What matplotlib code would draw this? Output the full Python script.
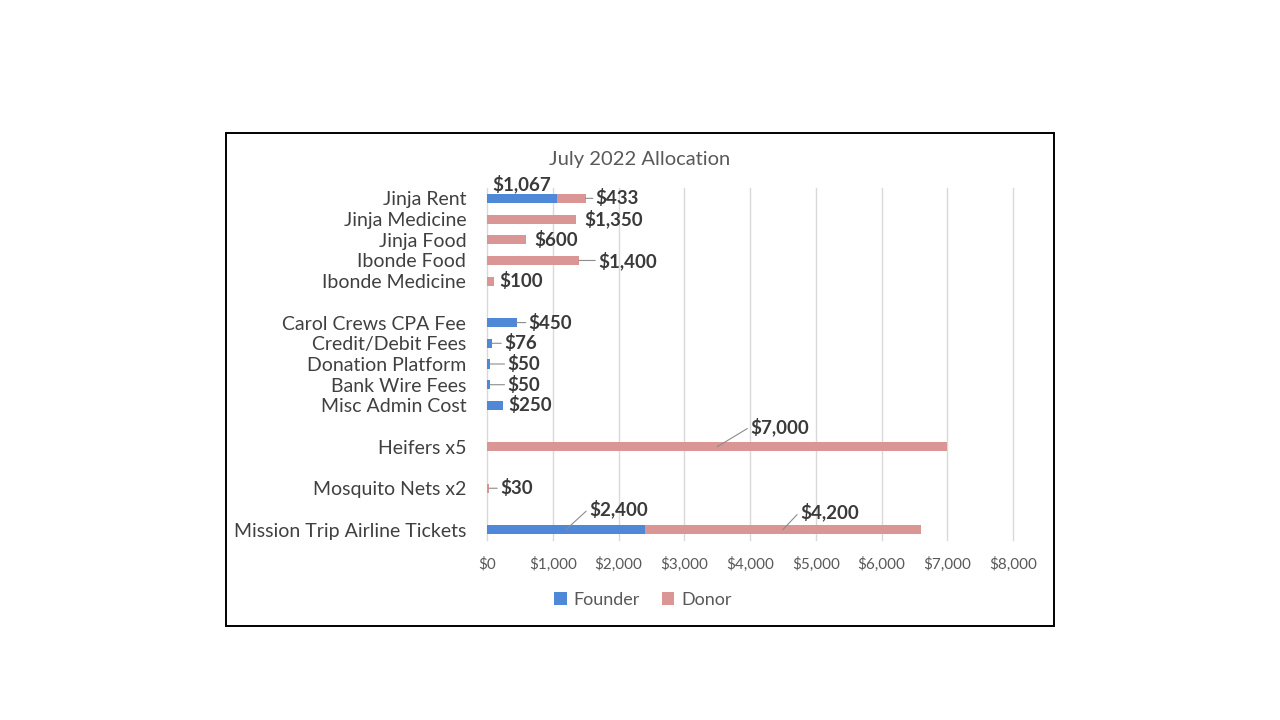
import matplotlib
matplotlib.use("Agg")
import matplotlib.pyplot as plt
from matplotlib.patches import Rectangle
from matplotlib.ticker import FuncFormatter

plt.rcParams['font.family'] = ['Lato', 'DejaVu Sans']

categories = ["Jinja Rent", "Jinja Medicine", "Jinja Food", "Ibonde Food",
              "Ibonde Medicine", "", "Carol Crews CPA Fee", "Credit/Debit Fees",
              "Donation Platform", "Bank Wire Fees", "Misc Admin Cost", "",
              "Heifers x5", "", "Mosquito Nets x2", "",
              "Mission Trip Airline Tickets"]
founder = [1067, 0, 0, 0, 0, 0, 450, 76, 50, 50, 250, 0, 0, 0, 0, 0, 2400]
donor = [433, 1350, 600, 1400, 100, 0, 0, 0, 0, 0, 0, 0, 7000, 0, 30, 0, 4200]
series_names = ["Founder", "Donor"]
xticks = [0, 1000, 2000, 3000, 4000, 5000, 6000, 7000, 8000]

blue = '#4F88D6'
pink = '#DA9694'

# label placement: (row, series) -> (anchor, dx, dy, leader)
label_pos = {
    (0, 0): ('mid', 0, 14, False),
    (0, 1): ('end', 10, 0, True),
    (1, 1): ('end', 9, 0, False),
    (2, 1): ('end', 8, 0, False),
    (3, 1): ('end', 19, 0, True),
    (4, 1): ('end', 6, 0, False),
    (6, 0): ('end', 12, 0, True),
    (7, 0): ('end', 12, 0, True),
    (8, 0): ('end', 17, 0, True),
    (9, 0): ('end', 17, 0, True),
    (10, 0): ('end', 5, 0, False),
    (12, 1): ('mid', 33, 20, True),
    (14, 1): ('end', 11, 0, True),
    (16, 0): ('mid', 23, 21, True),
    (16, 1): ('mid', 17, 18, True),
}

fig = plt.figure(figsize=(12.8, 7.2), dpi=100)
fig.patches.append(Rectangle((226 / 1280, 1 - 626 / 720), 828 / 1280, 493 / 720,
                             transform=fig.transFigure, fill=False,
                             edgecolor='black', linewidth=1.4))

ax = fig.add_axes([487 / 1280, 1 - 540 / 720, 526 / 1280, 352 / 720])
rows = list(range(len(categories)))
h = 0.44
bf = ax.barh(rows, founder, height=h, color=blue, label=series_names[0], zorder=3)
bd = ax.barh(rows, donor, height=h, left=founder, color=pink, label=series_names[1], zorder=3)

for s, (vals, lefts) in enumerate([(founder, [0] * len(founder)), (donor, founder)]):
    for i, v in enumerate(vals):
        if v == 0:
            continue
        anchor, dx, dy, leader = label_pos[(i, s)]
        x = lefts[i] + (v if anchor == 'end' else v / 2)
        ha = 'center' if (anchor == 'mid' and dx == 0) else 'left'
        ax.annotate(f"${v:,.0f}", xy=(x, i), xytext=(dx, dy),
                    textcoords='offset pixels', ha=ha, va='center',
                    fontsize=13.5, fontweight='bold', color='#3a3a3a', zorder=5,
                    arrowprops=dict(arrowstyle='-', color='#8c8c8c', lw=0.8,
                                    shrinkA=0, shrinkB=0, relpos=(0, 0.5))
                    if leader else None)

ax.set_xlim(0, 8000)
ax.set_ylim(len(categories) - 0.5, -0.5)
ax.set_xticks(xticks)
ax.xaxis.set_major_formatter(FuncFormatter(lambda v, p: f"${v:,.0f}"))
ax.set_yticks(rows)
ax.set_yticklabels(categories)
ax.tick_params(axis='x', length=0, pad=12, labelsize=11, labelcolor='#595959')
ax.tick_params(axis='y', length=0, pad=15, labelsize=14, labelcolor='#404040')
ax.grid(axis='x', color='#d9d9d9', linewidth=1, zorder=0)
for gl in ax.get_xgridlines():
    gl.set_clip_on(False)
for sp in ax.spines.values():
    sp.set_visible(False)

fig.text(640 / 1280, 1 - 159 / 720, "July 2022 Allocation", ha='center', va='center',
         fontsize=14.5, color='#595959')
fig.legend(handles=[bf, bd], labels=series_names, loc='center', ncol=2,
           bbox_to_anchor=(643 / 1280, 1 - 600 / 720), frameon=False,
           fontsize=13, labelcolor='#595959', handlelength=0.7, handleheight=0.7,
           handletextpad=0.4, columnspacing=1.2)

fig.savefig("out.png", dpi=100)
